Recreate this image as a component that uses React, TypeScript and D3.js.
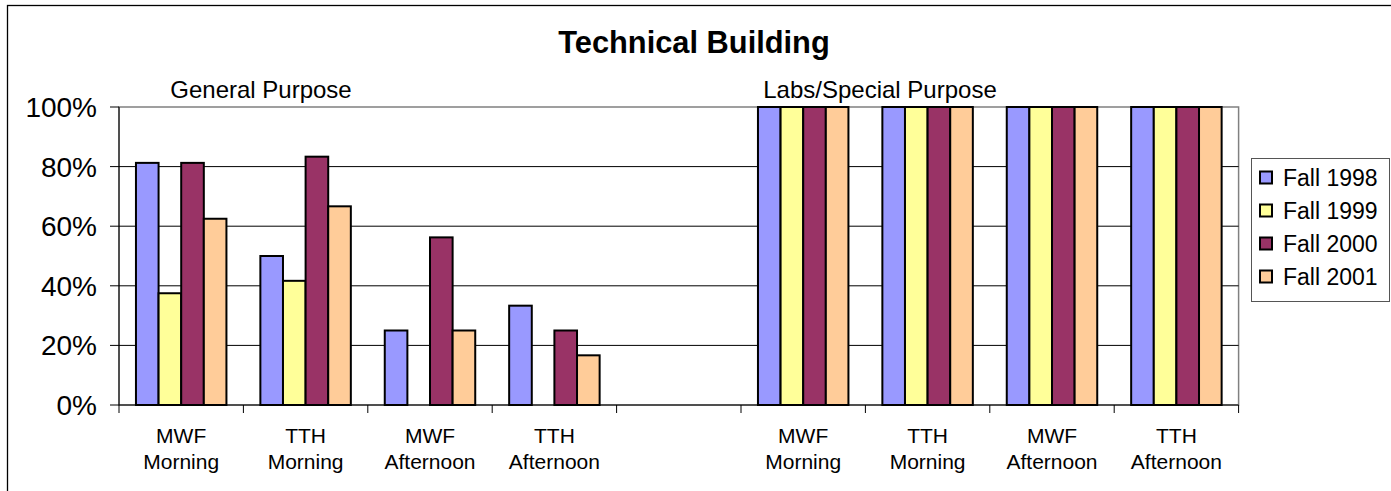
import React from "react";
import * as d3 from "d3";

const categoriesTop = ["MWF", "TTH", "MWF", "TTH", "", "MWF", "TTH", "MWF", "TTH"];
const categoriesBottom = ["Morning", "Morning", "Afternoon", "Afternoon", "", "Morning", "Morning", "Afternoon", "Afternoon"];
const seriesNames = ["Fall 1998", "Fall 1999", "Fall 2000", "Fall 2001"];
const fall1998 = [81.25, 50, 25, 33.33, null, 100, 100, 100, 100];
const fall1999 = [37.5, 41.67, 0, 0, null, 100, 100, 100, 100];
const fall2000 = [81.25, 83.33, 56.25, 25, null, 100, 100, 100, 100];
const fall2001 = [62.5, 66.67, 25, 16.67, null, 100, 100, 100, 100];
const seriesColors = ["#9999FF", "#FFFF99", "#993366", "#FFCC99"];
const yTicks = [0, 20, 40, 60, 80, 100];
const groupLabels = ["General Purpose", "Labs/Special Purpose"];
const title = "Technical Building";

const FONT = "Arial, 'Liberation Sans', sans-serif";

export default function App() {
  const W = 1391, H = 491;
  const left = 119, right = 1238.6, top = 107, bottom = 405;
  const seriesValues = [fall1998, fall1999, fall2000, fall2001];
  const idx = categoriesTop.map((_, i) => i);
  const x0 = d3.scaleBand<number>().domain(idx).range([left, right]).paddingInner(0).paddingOuter(0);
  const bw = x0.bandwidth();
  const x1 = d3.scaleBand<number>().domain([0, 1, 2, 3]).range([0, bw]).paddingInner(0).paddingOuter(0.75);
  const y = d3.scaleLinear().domain([0, 100]).range([bottom, top]);

  return (
    <svg width={W} height={H} style={{ position: "absolute", left: 0, top: 0, background: "#fff" }} fontFamily={FONT}>
      <rect x={0} y={0} width={W} height={H} fill="#fff" />
      {/* outer frame */}
      <rect x={7.5} y={5.5} width={W + 20} height={H + 20} fill="none" stroke="#000" strokeWidth={1.3} />
      <text x={694} y={53} textAnchor="middle" fontSize={30.8} fontWeight="bold">{title}</text>
      <text x={261} y={98} textAnchor="middle" fontSize={24}>{groupLabels[0]}</text>
      <text x={880} y={98} textAnchor="middle" fontSize={24}>{groupLabels[1]}</text>

      {/* plot area border */}
      <rect x={left} y={top} width={right - left} height={bottom - top} fill="none" stroke="#808080" strokeWidth={1.5} />
      {/* gridlines */}
      {yTicks.filter(t => t > 0 && t < 100).map(t => (
        <line key={t} x1={left} x2={right} y1={y(t)} y2={y(t)} stroke="#000" strokeWidth={1} />
      ))}
      {/* bars */}
      {seriesValues.map((vals, s) => (
        <g key={s}>
          {vals.map((v, i) => (v === null || v === 0) ? null : (
            <rect key={i} x={(x0(i) as number) + (x1(s) as number)} y={y(v)} width={x1.bandwidth()} height={y(0) - y(v)}
              fill={seriesColors[s]} stroke="#000" strokeWidth={2} />
          ))}
        </g>
      ))}
      {/* y axis */}
      <line x1={left} x2={left} y1={top} y2={bottom} stroke="#000" strokeWidth={1} />
      {yTicks.map(t => (
        <g key={t}>
          <line x1={left - 9} x2={left} y1={y(t)} y2={y(t)} stroke="#000" strokeWidth={1} />
          <text x={97} y={y(t)} dy="0.36em" textAnchor="end" fontSize={28}>{t + "%"}</text>
        </g>
      ))}
      {/* x axis */}
      <line x1={left} x2={right} y1={bottom} y2={bottom} stroke="#000" strokeWidth={1} />
      {idx.concat([idx.length]).map(i => {
        const xx = i < idx.length ? (x0(i) as number) : right;
        return <line key={i} x1={xx} x2={xx} y1={bottom} y2={bottom + 8} stroke="#000" strokeWidth={1} />;
      })}
      {idx.map(i => {
        const cx = (x0(i) as number) + bw / 2;
        return (
          <g key={i}>
            <text x={cx} y={443} textAnchor="middle" fontSize={21}>{categoriesTop[i]}</text>
            <text x={cx} y={469} textAnchor="middle" fontSize={21}>{categoriesBottom[i]}</text>
          </g>
        );
      })}
      {/* legend */}
      <rect x={1251.5} y={158.5} width={138} height={143} fill="#fff" stroke="#555" strokeWidth={1} />
      {seriesNames.map((n, s) => {
        const cy = 177.5 + s * 33;
        return (
          <g key={n}>
            <rect x={1260} y={cy - 6} width={12} height={12} fill={seriesColors[s]} stroke="#000" strokeWidth={2} />
            <text x={1283} y={cy} dy="0.36em" fontSize={23}>{n}</text>
          </g>
        );
      })}
    </svg>
  );
}
